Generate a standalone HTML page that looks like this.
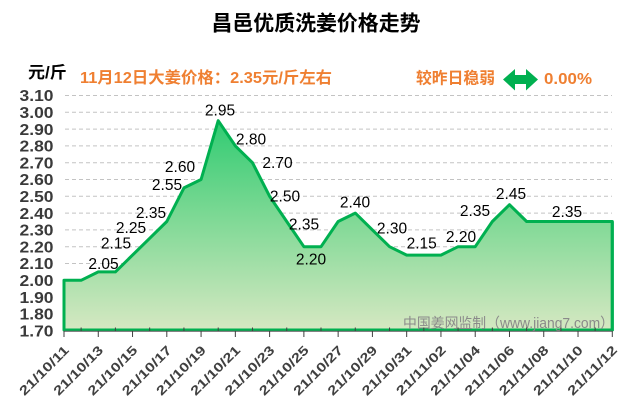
<!DOCTYPE html>
<html><head><meta charset="utf-8"><style>
html,body{margin:0;padding:0;background:#fff;}
svg{display:block;}
</style></head><body>
<svg width="640" height="410" viewBox="0 0 640 410" xmlns="http://www.w3.org/2000/svg">
<defs>
<linearGradient id="g" x1="0" y1="95" x2="0" y2="331" gradientUnits="userSpaceOnUse">
<stop offset="0" stop-color="#1cc869"/>
<stop offset="0.5" stop-color="#7ad893"/>
<stop offset="1" stop-color="#d6e8c2"/>
</linearGradient>
</defs>
<rect width="640" height="410" fill="#fff"/>
<text x="316" y="30.5" text-anchor="middle" font-family="'Liberation Sans','Noto Sans CJK SC',sans-serif" font-weight="bold" font-size="21" fill="#000" textLength="209" lengthAdjust="spacingAndGlyphs">昌邑优质洗姜价格走势</text>
<text x="28" y="77.8" font-family="'Liberation Sans','Noto Sans CJK SC',sans-serif" font-weight="bold" font-size="16.5" fill="#000" textLength="38.7" lengthAdjust="spacingAndGlyphs">元/斤</text>
<text x="80" y="83" font-family="'Liberation Sans','Noto Sans CJK SC',sans-serif" font-weight="bold" font-size="16" fill="#ef7f31" textLength="252" lengthAdjust="spacingAndGlyphs">11月12日大姜价格：2.35元/斤左右</text>
<text x="416" y="83.5" font-family="'Liberation Sans','Noto Sans CJK SC',sans-serif" font-weight="bold" font-size="16" fill="#ef7f31" textLength="79" lengthAdjust="spacingAndGlyphs">较昨日稳弱</text>
<polygon points="503,79.5 515,69 515,75 526,75 526,69 538,79.5 526,90.5 526,84 515,84 515,90.5" fill="#00b050"/>
<text x="544" y="84" font-family="'Liberation Sans',sans-serif" font-weight="bold" font-size="16" fill="#ef7f31" textLength="48" lengthAdjust="spacingAndGlyphs">0.00%</text>

<g stroke="#c3c3c3" stroke-width="1" stroke-dasharray="4,3">
<line x1="65" y1="313.9" x2="612" y2="313.9"/>
<line x1="65" y1="297.1" x2="612" y2="297.1"/>
<line x1="65" y1="280.3" x2="612" y2="280.3"/>
<line x1="65" y1="263.5" x2="612" y2="263.5"/>
<line x1="65" y1="246.7" x2="612" y2="246.7"/>
<line x1="65" y1="229.9" x2="612" y2="229.9"/>
<line x1="65" y1="213.1" x2="612" y2="213.1"/>
<line x1="65" y1="196.3" x2="612" y2="196.3"/>
<line x1="65" y1="179.5" x2="612" y2="179.5"/>
<line x1="65" y1="162.7" x2="612" y2="162.7"/>
<line x1="65" y1="145.9" x2="612" y2="145.9"/>
<line x1="65" y1="129.1" x2="612" y2="129.1"/>
<line x1="65" y1="112.3" x2="612" y2="112.3"/>
<line x1="65" y1="95.5" x2="612" y2="95.5"/>
</g>

<g font-family="'Liberation Sans',sans-serif" font-weight="bold" font-size="16" fill="#3a3a3a">
<text x="19.5" y="101.2" textLength="34" lengthAdjust="spacingAndGlyphs">3.10</text>
<text x="19.5" y="118" textLength="34" lengthAdjust="spacingAndGlyphs">3.00</text>
<text x="19.5" y="134.8" textLength="34" lengthAdjust="spacingAndGlyphs">2.90</text>
<text x="19.5" y="151.6" textLength="34" lengthAdjust="spacingAndGlyphs">2.80</text>
<text x="19.5" y="168.4" textLength="34" lengthAdjust="spacingAndGlyphs">2.70</text>
<text x="19.5" y="185.2" textLength="34" lengthAdjust="spacingAndGlyphs">2.60</text>
<text x="19.5" y="202" textLength="34" lengthAdjust="spacingAndGlyphs">2.50</text>
<text x="19.5" y="218.8" textLength="34" lengthAdjust="spacingAndGlyphs">2.40</text>
<text x="19.5" y="235.6" textLength="34" lengthAdjust="spacingAndGlyphs">2.30</text>
<text x="19.5" y="252.4" textLength="34" lengthAdjust="spacingAndGlyphs">2.20</text>
<text x="19.5" y="269.2" textLength="34" lengthAdjust="spacingAndGlyphs">2.10</text>
<text x="19.5" y="286" textLength="34" lengthAdjust="spacingAndGlyphs">2.00</text>
<text x="19.5" y="302.8" textLength="34" lengthAdjust="spacingAndGlyphs">1.90</text>
<text x="19.5" y="319.6" textLength="34" lengthAdjust="spacingAndGlyphs">1.80</text>
<text x="19.5" y="336.4" textLength="34" lengthAdjust="spacingAndGlyphs">1.70</text>
</g>

<polygon points="64,280.3 81.13,280.3 98.27,271.9 115.4,271.9 132.54,255.1 149.67,238.3 166.8,221.5 183.94,187.9 201.07,179.5 218.21,120.7 235.34,145.9 252.47,162.7 269.61,196.3 286.74,221.5 303.88,246.7 321.01,246.7 338.14,221.5 355.28,213.1 372.41,229.9 389.55,246.7 406.68,255.1 423.81,255.1 440.95,255.1 458.08,246.7 475.22,246.7 492.35,221.5 509.48,204.7 526.62,221.5 543.75,221.5 560.89,221.5 578.02,221.5 595.15,221.5 612.29,221.5 612.29,330 64,330" fill="url(#g)" stroke="#00b050" stroke-width="3" stroke-linejoin="round"/>

<text x="403" y="328" font-family="'Liberation Sans','Noto Sans CJK SC',sans-serif" font-size="14.3" fill="#8a8a8a" textLength="211" lengthAdjust="spacingAndGlyphs">中国姜网监制（www.jiang7.com）</text>
<line x1="612.29" y1="221.5" x2="612.29" y2="331" stroke="#00b050" stroke-width="3"/>

<line x1="64" y1="331.3" x2="612.3" y2="331.3" stroke="#595959" stroke-width="1"/>
<g stroke="#404040" stroke-width="1">
<line x1="64" y1="331" x2="64" y2="337"/>
<line x1="98.27" y1="331" x2="98.27" y2="337"/>
<line x1="132.54" y1="331" x2="132.54" y2="337"/>
<line x1="166.8" y1="331" x2="166.8" y2="337"/>
<line x1="201.07" y1="331" x2="201.07" y2="337"/>
<line x1="235.34" y1="331" x2="235.34" y2="337"/>
<line x1="269.61" y1="331" x2="269.61" y2="337"/>
<line x1="303.88" y1="331" x2="303.88" y2="337"/>
<line x1="338.14" y1="331" x2="338.14" y2="337"/>
<line x1="372.41" y1="331" x2="372.41" y2="337"/>
<line x1="406.68" y1="331" x2="406.68" y2="337"/>
<line x1="440.95" y1="331" x2="440.95" y2="337"/>
<line x1="475.22" y1="331" x2="475.22" y2="337"/>
<line x1="509.48" y1="331" x2="509.48" y2="337"/>
<line x1="543.75" y1="331" x2="543.75" y2="337"/>
<line x1="578.02" y1="331" x2="578.02" y2="337"/>
<line x1="612.29" y1="331" x2="612.29" y2="337"/>
<line x1="81.13" y1="327.5" x2="81.13" y2="331"/>
<line x1="115.4" y1="327.5" x2="115.4" y2="331"/>
<line x1="149.67" y1="327.5" x2="149.67" y2="331"/>
<line x1="183.94" y1="327.5" x2="183.94" y2="331"/>
<line x1="218.21" y1="327.5" x2="218.21" y2="331"/>
<line x1="252.47" y1="327.5" x2="252.47" y2="331"/>
<line x1="286.74" y1="327.5" x2="286.74" y2="331"/>
<line x1="321.01" y1="327.5" x2="321.01" y2="331"/>
<line x1="355.28" y1="327.5" x2="355.28" y2="331"/>
<line x1="389.55" y1="327.5" x2="389.55" y2="331"/>
<line x1="423.81" y1="327.5" x2="423.81" y2="331"/>
<line x1="458.08" y1="327.5" x2="458.08" y2="331"/>
<line x1="492.35" y1="327.5" x2="492.35" y2="331"/>
<line x1="526.62" y1="327.5" x2="526.62" y2="331"/>
<line x1="560.89" y1="327.5" x2="560.89" y2="331"/>
<line x1="595.15" y1="327.5" x2="595.15" y2="331"/>
</g>

<g font-family="'Liberation Sans',sans-serif" font-size="15.5" fill="#000" text-anchor="middle">
<text x="103.5" y="269">2.05</text>
<text x="116" y="248.5">2.15</text>
<text x="131" y="233.2">2.25</text>
<text x="151" y="218.2">2.35</text>
<text x="167" y="189.8">2.55</text>
<text x="180" y="172.2">2.60</text>
<text x="220" y="115.5">2.95</text>
<text x="251" y="144.5">2.80</text>
<text x="277.5" y="168.2">2.70</text>
<text x="285" y="201.5">2.50</text>
<text x="304" y="229.5">2.35</text>
<text x="311" y="264.5">2.20</text>
<text x="355" y="207.5">2.40</text>
<text x="392" y="233.5">2.30</text>
<text x="421.7" y="248.5">2.15</text>
<text x="461" y="242.2">2.20</text>
<text x="475" y="216.2">2.35</text>
<text x="511" y="198.8">2.45</text>
<text x="567" y="217.2">2.35</text>
</g>

<g font-family="'Liberation Sans',sans-serif" font-weight="bold" font-size="13" fill="#404040" text-anchor="end">
<text transform="translate(69.7,351) rotate(-45)" textLength="64" lengthAdjust="spacingAndGlyphs">21/10/11</text>
<text transform="translate(103.97,351) rotate(-45)" textLength="64" lengthAdjust="spacingAndGlyphs">21/10/13</text>
<text transform="translate(138.24,351) rotate(-45)" textLength="64" lengthAdjust="spacingAndGlyphs">21/10/15</text>
<text transform="translate(172.5,351) rotate(-45)" textLength="64" lengthAdjust="spacingAndGlyphs">21/10/17</text>
<text transform="translate(206.77,351) rotate(-45)" textLength="64" lengthAdjust="spacingAndGlyphs">21/10/19</text>
<text transform="translate(241.04,351) rotate(-45)" textLength="64" lengthAdjust="spacingAndGlyphs">21/10/21</text>
<text transform="translate(275.31,351) rotate(-45)" textLength="64" lengthAdjust="spacingAndGlyphs">21/10/23</text>
<text transform="translate(309.58,351) rotate(-45)" textLength="64" lengthAdjust="spacingAndGlyphs">21/10/25</text>
<text transform="translate(343.84,351) rotate(-45)" textLength="64" lengthAdjust="spacingAndGlyphs">21/10/27</text>
<text transform="translate(378.11,351) rotate(-45)" textLength="64" lengthAdjust="spacingAndGlyphs">21/10/29</text>
<text transform="translate(412.38,351) rotate(-45)" textLength="64" lengthAdjust="spacingAndGlyphs">21/10/31</text>
<text transform="translate(446.65,351) rotate(-45)" textLength="64" lengthAdjust="spacingAndGlyphs">21/11/02</text>
<text transform="translate(480.92,351) rotate(-45)" textLength="64" lengthAdjust="spacingAndGlyphs">21/11/04</text>
<text transform="translate(515.18,351) rotate(-45)" textLength="64" lengthAdjust="spacingAndGlyphs">21/11/06</text>
<text transform="translate(549.45,351) rotate(-45)" textLength="64" lengthAdjust="spacingAndGlyphs">21/11/08</text>
<text transform="translate(583.72,351) rotate(-45)" textLength="64" lengthAdjust="spacingAndGlyphs">21/11/10</text>
<text transform="translate(617.99,351) rotate(-45)" textLength="64" lengthAdjust="spacingAndGlyphs">21/11/12</text>
</g>
</svg>
</body></html>
